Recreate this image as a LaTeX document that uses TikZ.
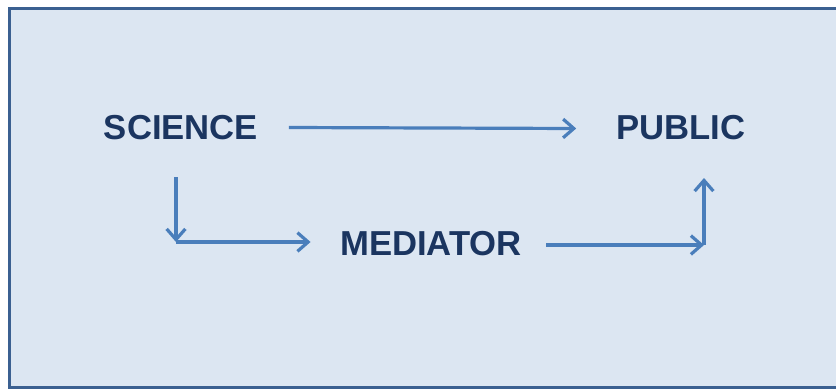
\documentclass[tikz,border=0pt]{standalone}
\usepackage{fontspec}
\setmainfont{Liberation Sans}
\usetikzlibrary{arrows.meta}
\definecolor{bgfill}{HTML}{DCE6F2}
\definecolor{frameblue}{HTML}{3B6091}
\definecolor{arrowblue}{HTML}{4A7EBB}
\definecolor{textnavy}{HTML}{1B3560}
\tikzset{
  lbl/.style={font=\fontsize{26}{28}\selectfont\bfseries, text=textnavy, inner sep=0pt, anchor=center},
  conn/.style={draw=arrowblue, line width=2.4pt, -{Straight Barb[length=8pt, width=14pt, line width=2.4pt]}}
}
\begin{document}
\begin{tikzpicture}[x=0.75pt, y=-0.75pt]
\useasboundingbox (0,0) rectangle (836,389);
\clip (0,0) rectangle (836,389);
\fill[white] (0,0) rectangle (836,389);
\draw[frameblue, fill=bgfill, line width=2.4pt] (9.5,8.5) rectangle (860,387.5);
\node[lbl] (sci) at (181,128) {SCIENCE};
\node[lbl] (pub) at (681,128) {PUBLIC};
\node[lbl] (med) at (431,244) {MEDIATOR};
\coordinate (c1) at (176,242);
\coordinate (c2) at (704,245);
\draw[conn] ([xshift=23pt]sci.east |- 0,127.5) -- ([xshift=-30pt]pub.west |- 0,128.5);
\draw[conn] (176,177) -- (c1);
\draw[conn] (c1) -- ([xshift=-22pt]med.west |- c1);
\draw[conn] ([xshift=18pt]med.east |- c2) -- (c2);
\draw[conn] (c2) -- (c2 |- 0,178);
\end{tikzpicture}
\end{document}
